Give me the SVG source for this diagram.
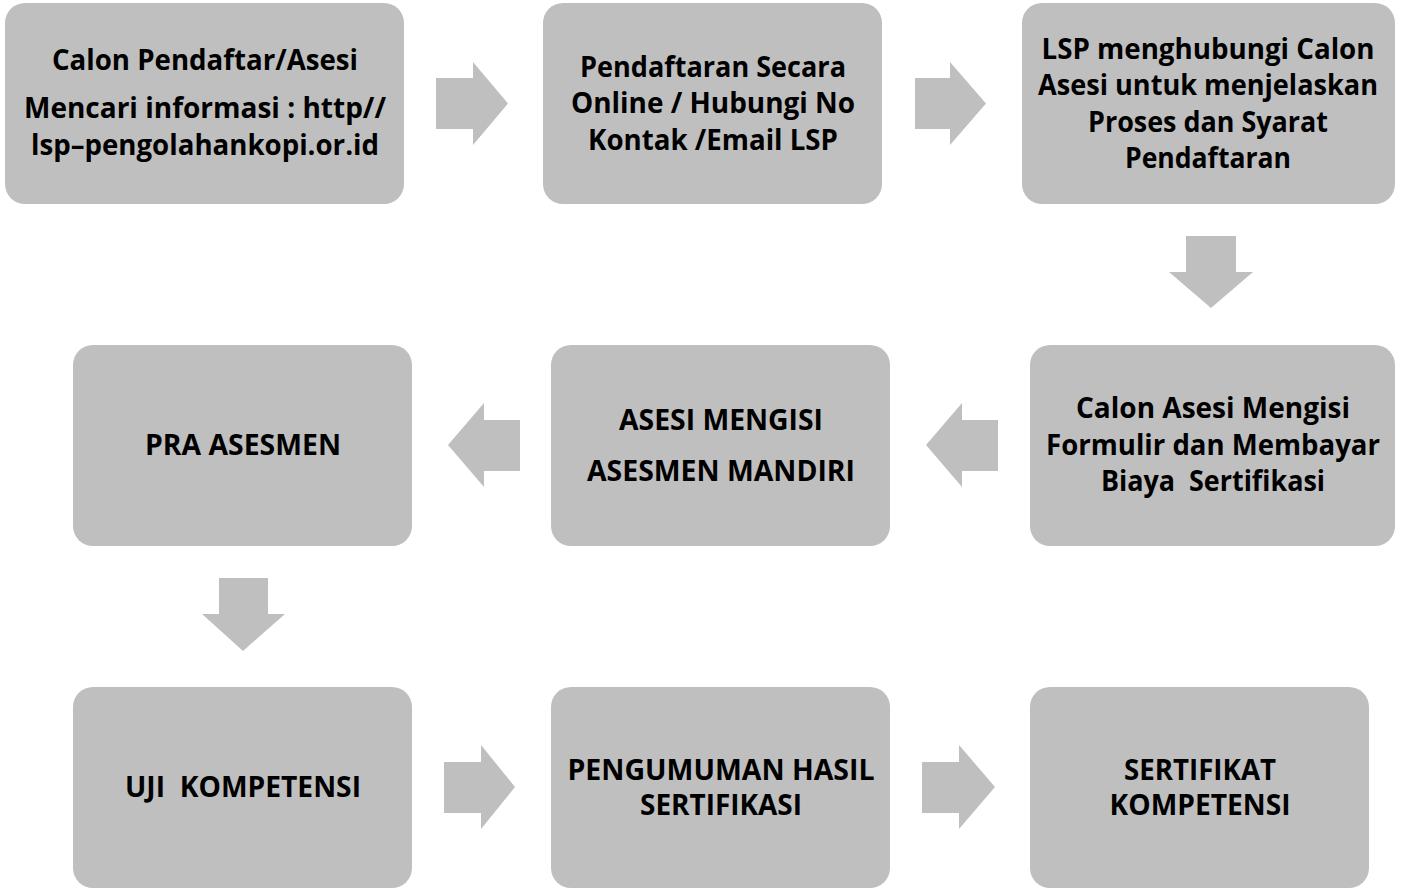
<svg xmlns="http://www.w3.org/2000/svg" width="1402" height="891" viewBox="0 0 1402 891">
<style>
.box{fill:#bfbfbf;}
.arr{fill:#bfbfbf;}
.t{font-family:"Open Sans",Lato,"Liberation Sans",sans-serif;font-weight:bold;font-size:28px;fill:#000;text-anchor:middle;}
</style>
<rect width="1402" height="891" fill="#ffffff"/>
<g id="connectors">
<polygon class="arr" points="436,78 473,78 473,62 508,103.5 473,145 473,129 436,129"/>
<polygon class="arr" points="915,78 950,78 950,62 986,103.5 950,145 950,129 915,129"/>
<polygon class="arr" points="1186,236 1236,236 1236,272 1253,272 1211,308 1169,272 1186,272"/>
<polygon class="arr" points="520,420 484,420 484,403 448,445 484,487 484,471 520,471"/>
<polygon class="arr" points="998,420 962,420 962,403 926,445 962,487 962,471 998,471"/>
<polygon class="arr" points="219,578 268,578 268,614 285,614 243,651 202,614 219,614"/>
<polygon class="arr" points="444,762 481,762 481,745 515,787 481,829 481,813 444,813"/>
<polygon class="arr" points="922,762 959,762 959,745 995,787 959,829 959,813 922,813"/>
</g>
<g id="node1">
<rect class="box" x="5" y="3" width="399" height="201" rx="20"/>
<text class="t" x="205" y="70" textLength="306" lengthAdjust="spacingAndGlyphs">Calon Pendaftar/Asesi</text>
<text class="t" x="205" y="118" textLength="362" lengthAdjust="spacingAndGlyphs">Mencari informasi : http//</text>
<text class="t" x="205" y="155" textLength="348" lengthAdjust="spacingAndGlyphs">lsp–pengolahankopi.or.id</text>
</g>
<g id="node2">
<rect class="box" x="543" y="3" width="339" height="201" rx="20"/>
<text class="t" x="713" y="77" textLength="266" lengthAdjust="spacingAndGlyphs">Pendaftaran Secara</text>
<text class="t" x="713" y="113" textLength="284" lengthAdjust="spacingAndGlyphs">Online / Hubungi No</text>
<text class="t" x="713" y="150" textLength="250" lengthAdjust="spacingAndGlyphs">Kontak /Email LSP</text>
</g>
<g id="node3">
<rect class="box" x="1022" y="3" width="373" height="201" rx="20"/>
<text class="t" x="1208" y="59" textLength="333" lengthAdjust="spacingAndGlyphs">LSP menghubungi Calon</text>
<text class="t" x="1208" y="95" textLength="340" lengthAdjust="spacingAndGlyphs">Asesi untuk menjelaskan</text>
<text class="t" x="1208" y="132" textLength="240" lengthAdjust="spacingAndGlyphs">Proses dan Syarat</text>
<text class="t" x="1208" y="168" textLength="166" lengthAdjust="spacingAndGlyphs">Pendaftaran</text>
</g>
<g id="node4">
<rect class="box" x="73" y="345" width="339" height="201" rx="20"/>
<text class="t" x="243" y="455" textLength="196" lengthAdjust="spacingAndGlyphs">PRA ASESMEN</text>
</g>
<g id="node5">
<rect class="box" x="551" y="345" width="339" height="201" rx="20"/>
<text class="t" x="721" y="430" textLength="204" lengthAdjust="spacingAndGlyphs">ASESI MENGISI</text>
<text class="t" x="721" y="481" textLength="268" lengthAdjust="spacingAndGlyphs">ASESMEN MANDIRI</text>
</g>
<g id="node6">
<rect class="box" x="1030" y="345" width="365" height="201" rx="20"/>
<text class="t" x="1213" y="418" textLength="274" lengthAdjust="spacingAndGlyphs">Calon Asesi Mengisi</text>
<text class="t" x="1213" y="455" textLength="334" lengthAdjust="spacingAndGlyphs">Formulir dan Membayar</text>
<text class="t" x="1213" y="491" textLength="224" lengthAdjust="spacingAndGlyphs" xml:space="preserve">Biaya  Sertifikasi</text>
</g>
<g id="node7">
<rect class="box" x="73" y="687" width="339" height="201" rx="20"/>
<text class="t" x="243" y="797" textLength="236" lengthAdjust="spacingAndGlyphs" xml:space="preserve">UJI  KOMPETENSI</text>
</g>
<g id="node8">
<rect class="box" x="551" y="687" width="339" height="201" rx="20"/>
<text class="t" x="721" y="780" textLength="307" lengthAdjust="spacingAndGlyphs">PENGUMUMAN HASIL</text>
<text class="t" x="721" y="815" textLength="162" lengthAdjust="spacingAndGlyphs">SERTIFIKASI</text>
</g>
<g id="node9">
<rect class="box" x="1030" y="687" width="339" height="201" rx="20"/>
<text class="t" x="1200" y="780" textLength="152" lengthAdjust="spacingAndGlyphs">SERTIFIKAT</text>
<text class="t" x="1200" y="815" textLength="181" lengthAdjust="spacingAndGlyphs">KOMPETENSI</text>
</g>
</svg>
